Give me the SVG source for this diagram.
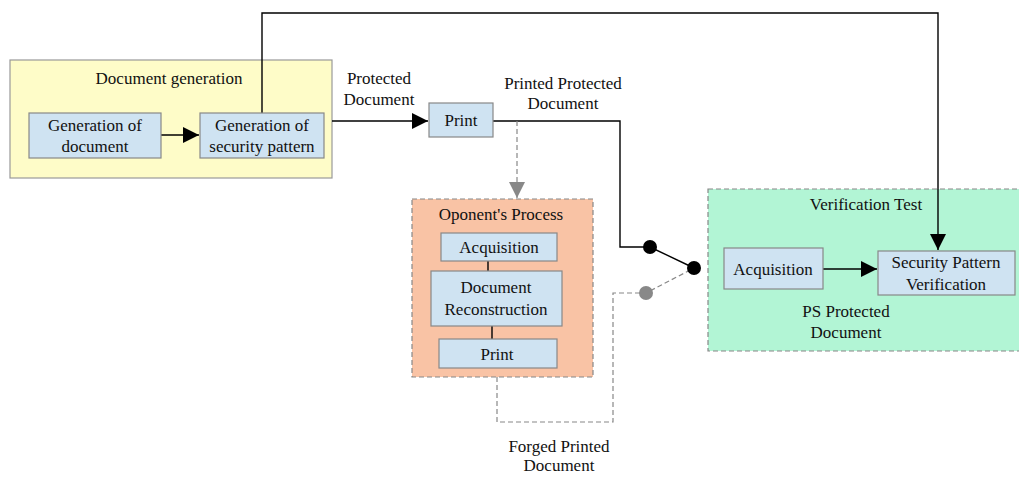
<svg xmlns="http://www.w3.org/2000/svg" width="1019" height="478" viewBox="0 0 1019 478">
<defs>
<style>
text{font-family:"Liberation Serif","Times New Roman",serif;font-size:17px;fill:#111;text-anchor:middle}
.blue{fill:#cfe3f2;stroke:#888;stroke-width:1.2}
.ln{fill:none;stroke:#000;stroke-width:1.4}
.dash{fill:none;stroke:#888;stroke-width:1.2;stroke-dasharray:5,3}
</style>
<marker id="abig" viewBox="0 0 10 10" refX="10" refY="5" markerWidth="24" markerHeight="16" markerUnits="userSpaceOnUse" orient="auto"><path d="M0,0L10,5L0,10z" fill="#000"/></marker>
<marker id="ag" viewBox="0 0 10 10" refX="10" refY="5" markerWidth="20" markerHeight="16" markerUnits="userSpaceOnUse" orient="auto"><path d="M0,0L10,5L0,10z" fill="#888"/></marker>
</defs>
<g id="group-docgen">
<rect x="10" y="60" width="322" height="118" fill="#fefcc8" stroke="#999" stroke-width="1.2"/>
<text x="169" y="84">Document generation</text>
</g>
<g id="group-oponent">
<rect x="412" y="199" width="181" height="178" fill="#f9c3a5" stroke="#888" stroke-width="1.2" stroke-dasharray="5,3"/>
<text x="501" y="220">Oponent's  Process</text>
</g>
<g id="group-verif">
<rect x="708" y="189" width="320" height="162" fill="#b2f5d5" stroke="#888" stroke-width="1.2" stroke-dasharray="5,3"/>
<text x="866" y="210">Verification Test</text>
</g>
<g id="connectors">
<line class="ln" x1="161" y1="135" x2="199" y2="135" marker-end="url(#abig)"/>
<polyline class="ln" points="262,113 262,13 938,13 938,250" marker-end="url(#abig)"/>
<line class="ln" x1="332" y1="121" x2="428" y2="121" marker-end="url(#abig)"/>
<polyline class="ln" points="493,121 620,121 620,247 650,247 694,268"/>
<line class="dash" x1="517" y1="121" x2="517" y2="198" marker-end="url(#ag)"/>
<line class="ln" x1="488" y1="261" x2="488" y2="271" stroke-width="1.2"/>
<line class="ln" x1="492" y1="326" x2="492" y2="339" stroke-width="1.2"/>
<polyline class="dash" points="497,377 497,422 613,422 613,293 646,293 694,268"/>
<line class="ln" x1="823" y1="269" x2="877" y2="269" marker-end="url(#abig)"/>
<circle cx="650" cy="247" r="7" fill="#000"/>
<circle cx="694" cy="268" r="7" fill="#000"/>
<circle cx="646" cy="293" r="7" fill="#888"/>
</g>
<g id="n-gendoc">
<rect class="blue" x="29" y="113" width="132" height="45"/>
<text x="95" y="131">Generation of</text>
<text x="95" y="152">document</text>
</g>
<g id="n-gensec">
<rect class="blue" x="200" y="113" width="124" height="45"/>
<text x="262" y="131">Generation of</text>
<text x="262" y="152">security pattern</text>
</g>
<g id="l-protected">
<text x="379" y="84">Protected</text>
<text x="379" y="105">Document</text>
</g>
<g id="n-print">
<rect class="blue" x="429" y="103" width="64" height="34"/>
<text x="461" y="126">Print</text>
</g>
<g id="l-printed">
<text x="563" y="89">Printed Protected</text>
<text x="563" y="109">Document</text>
</g>
<g id="n-acq1">
<rect class="blue" x="441" y="233" width="116" height="28"/>
<text x="499" y="253">Acquisition</text>
</g>
<g id="n-recon">
<rect class="blue" x="431" y="271" width="131" height="55"/>
<text x="496" y="293">Document</text>
<text x="496" y="315">Reconstruction</text>
</g>
<g id="n-print2">
<rect class="blue" x="439" y="339" width="118" height="29"/>
<text x="497" y="360">Print</text>
</g>
<g id="n-acq2">
<rect class="blue" x="724" y="248" width="99" height="41"/>
<text x="773" y="275">Acquisition</text>
</g>
<g id="n-spv">
<rect class="blue" x="878" y="251" width="137" height="44"/>
<text x="946" y="268">Security Pattern</text>
<text x="946" y="290">Verification</text>
</g>
<g id="l-ps">
<text x="846" y="317">PS Protected</text>
<text x="846" y="338">Document</text>
</g>
<g id="l-forged">
<text x="559" y="452">Forged Printed</text>
<text x="559" y="471">Document</text>
</g>
</svg>
